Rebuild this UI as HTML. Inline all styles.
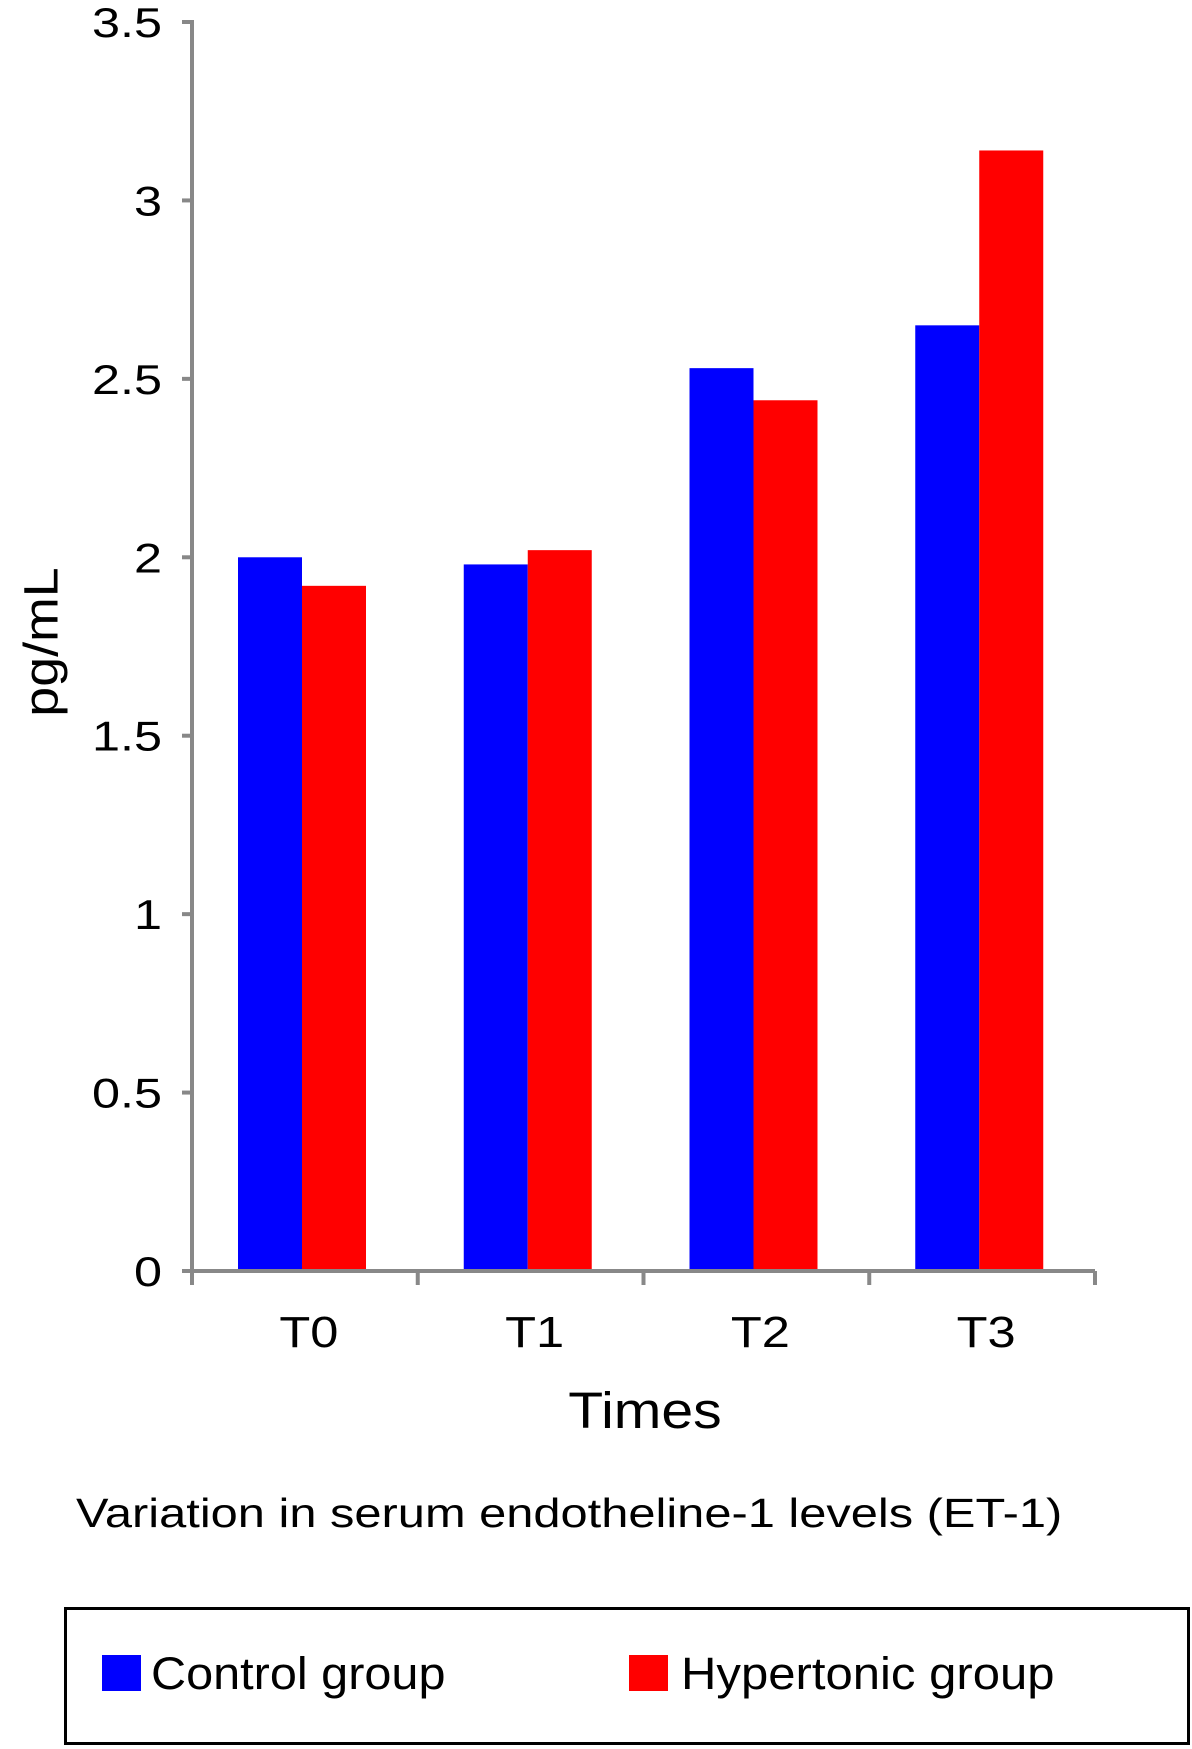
<!DOCTYPE html>
<html><head><meta charset="utf-8"><style>
html,body{margin:0;padding:0;background:#fff;}
svg{display:block;font-family:"Liberation Sans",Arial,sans-serif;}
.sx{display:inline-block;transform-origin:0 0;}
</style></head><body>
<svg id="chart" width="1192" height="1749" viewBox="0 0 1192 1749"></svg>
<script>
const categories = ["T0","T1","T2","T3"];
const controlValues = [2.0, 1.98, 2.53, 2.65];
const hypertonicValues = [1.92, 2.02, 2.44, 3.14];
const yTicks = [0, 0.5, 1, 1.5, 2, 2.5, 3, 3.5];
const yTickLabels = ["0","0.5","1","1.5","2","2.5","3","3.5"];

const NS = "http://www.w3.org/2000/svg";
const svg = document.getElementById("chart");
const X0 = 192, X1 = 1095, Y0 = 1271, YT = 22, YMAX = 3.5;
const groupW = (X1 - X0) / categories.length;
const barW = 64, barOff = 46;
function yScale(v){ return Y0 - (v / YMAX) * (Y0 - YT); }
function xGroup(i){ return X0 + i * groupW; }
function mk(tag, attrs, parent){ const e = document.createElementNS(NS, tag); for (const k in attrs) e.setAttribute(k, attrs[k]); (parent||svg).appendChild(e); return e; }

categories.forEach((c, i) => {
  const gx = xGroup(i) + barOff;
  const b = mk("rect", {x: gx, y: yScale(controlValues[i]), width: barW, height: Y0 - yScale(controlValues[i]), fill: "#0000ff"});
  
  
  const r = mk("rect", {x: gx + barW, y: yScale(hypertonicValues[i]), width: barW, height: Y0 - yScale(hypertonicValues[i]), fill: "#ff0000"});
  
  
});

const ya = mk("line", {x1: X0, y1: YT - 2, x2: X0, y2: Y0, stroke: "#888", "stroke-width": 4});


const xa = mk("line", {x1: X0, y1: Y0, x2: X1, y2: Y0, stroke: "#888", "stroke-width": 4});



yTicks.forEach((v, i) => {
  const y = yScale(v);
  const t = mk("line", {x1: X0 - 10, y1: y, x2: X0, y2: y, stroke: "#888", "stroke-width": 4});
  
  
  const l = mk("text", {x: 0, y: 0, transform: "translate(162," + (y + 15) + ") scale(1.2,1)", "font-size": 42, "text-anchor": "end", fill: "#000"});
  l.textContent = yTickLabels[i];
  
  
});
for (let i = 0; i <= categories.length; i++) {
  const x = xGroup(i);
  const t = mk("line", {x1: x, y1: Y0, x2: x, y2: Y0 + 14, stroke: "#888", "stroke-width": 4});
  
  
}
categories.forEach((c, i) => {
  const l = mk("text", {x: 0, y: 0, transform: "translate(" + (xGroup(i) + groupW / 2 + 4) + ",1347) scale(1.15,1)", "font-size": 44, "text-anchor": "middle", fill: "#000"});
  l.textContent = c;
  
  
});
</script>
<div style="position:absolute;left:0;top:0;width:1192px;height:1749px;font-family:'Liberation Sans',Arial,sans-serif;pointer-events:none;">
  <div style="position:absolute;left:42px;top:642px;transform:translate(-50%,-50%) rotate(-90deg) scaleX(1.12);font-size:48px;white-space:nowrap;">pg/mL</div>
  <div style="position:absolute;left:645px;top:1381px;transform:translateX(-50%) scaleX(1.12);font-size:51px;white-space:nowrap;">Times</div>
  <div style="position:absolute;left:76px;top:1490px;font-size:41px;white-space:nowrap;transform-origin:0 0;transform:scaleX(1.19);">Variation in serum endotheline-1 levels (ET-1)</div>
  <div style="position:absolute;left:64px;top:1607px;width:1126px;height:138px;border:3px solid #000;box-sizing:border-box;">
    <div style="position:absolute;left:35px;top:45px;width:39px;height:36px;background:#0000ff;"></div>
    <div style="position:absolute;left:84px;top:38px;font-size:45px;white-space:nowrap;transform-origin:0 0;transform:scaleX(1.08);">Control group</div>
    <div style="position:absolute;left:562px;top:45px;width:39px;height:36px;background:#ff0000;"></div>
    <div style="position:absolute;left:614px;top:38px;font-size:45px;white-space:nowrap;transform-origin:0 0;transform:scaleX(1.09);">Hypertonic group</div>
  </div>
</div>
</body></html>
